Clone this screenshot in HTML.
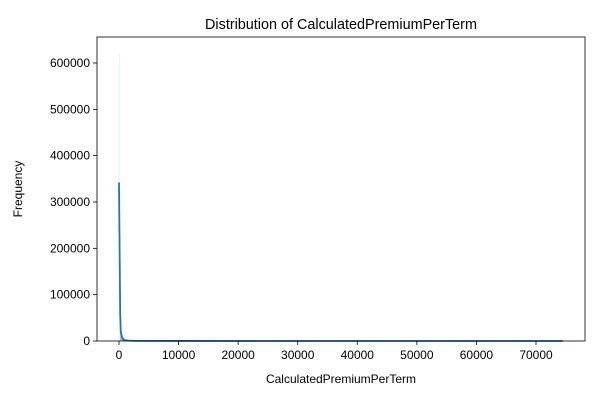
<!DOCTYPE html>
<html><head><meta charset="utf-8"><style>
body{margin:0;background:#fff;font-family:"Liberation Sans",sans-serif}
text{font-family:"Liberation Sans",sans-serif;fill:#000}
</style></head><body>
<svg width="600" height="400">
<g id="plot"></g>
<rect x="97" y="37" width="488" height="304" fill="none" stroke="#000" stroke-width="0.8"/>
<text x="341" y="29" font-size="14.4" text-anchor="middle">Distribution of CalculatedPremiumPerTerm</text>
<text x="341" y="383" font-size="12" text-anchor="middle">CalculatedPremiumPerTerm</text>
<text x="22" y="189" font-size="12" text-anchor="middle" transform="rotate(-90 22 189)">Frequency</text>
<g id="ticks"></g>
</svg>
<script>
const xTicks=[0,10000,20000,30000,40000,50000,60000,70000];
const yTicks=[0,100000,200000,300000,400000,500000,600000];
const binEdges=[0,200,400,600,800,1000,1500];
const binCounts=[620000,35000,12000,5000,2500,1200];
const kdeX=[0,100,200,300,500,800,1000,1500,3000,10000,30000,74500];
const kdeY=[342000,200000,60000,20000,8000,3000,2000,800,300,100,50,20];
const L=97,R=585,T=37,B=341;
const x=v=>119+(v/70000)*(536-119);
const y=v=>B-(v/600000)*(B-63);
const ns="http://www.w3.org/2000/svg";
const plot=document.getElementById('plot'),tk=document.getElementById('ticks');
function mk(t,a,p){const e=document.createElementNS(ns,t);for(const k in a)e.setAttribute(k,a[k]);p.appendChild(e);return e;}
binCounts.forEach((c,i)=>{
 const r=mk('rect',{x:x(binEdges[i]),y:y(c),width:Math.max(0.5,x(binEdges[i+1])-x(binEdges[i])),height:B-y(c),fill:i==0?'rgba(31,119,180,0.08)':'rgba(31,119,180,0.5)'},plot);
 
 
});
const pl=mk('polyline',{points:kdeX.map((v,i)=>x(v)+','+y(kdeY[i])).join(' '),fill:'none',stroke:'#1f77b4','stroke-width':1.8},plot);


xTicks.forEach(v=>{
 const l=mk('line',{x1:x(v),x2:x(v),y1:B,y2:B+4,stroke:'#000','stroke-width':0.8},tk);
 
 
 const t=mk('text',{x:x(v),y:B+18,'font-size':12,'text-anchor':'middle'},tk);t.textContent=v;
 
 
});
yTicks.forEach(v=>{
 const l=mk('line',{x1:L-4,x2:L,y1:y(v),y2:y(v),stroke:'#000','stroke-width':0.8},tk);
 
 
 const t=mk('text',{x:L-7,y:y(v)+4,'font-size':12,'text-anchor':'end'},tk);t.textContent=v;
 
 
});
</script>
</body></html>
